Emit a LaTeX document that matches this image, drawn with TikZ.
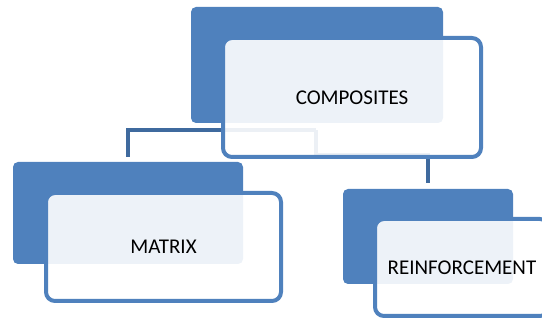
\documentclass[tikz,border=0pt]{standalone}
\usepackage{fontspec}
\setmainfont{Carlito}
\usepackage{tikz}

\definecolor{accent}{HTML}{4F81BD}
\definecolor{linkblue}{HTML}{3F6A9E}

\tikzset{
  backbox/.style={fill=accent, rounded corners=5pt, inner sep=0pt, outer sep=0pt},
  frontbox/.style={draw=accent, line width=4pt, fill=white, fill opacity=0.9, text opacity=1,
    rounded corners=9pt, inner sep=0pt, outer sep=0pt, font=\fontsize{21}{25}\selectfont},
  link/.style={draw=linkblue, line width=4pt}
}

\begin{document}
\begin{tikzpicture}[x=1pt,y=-1pt]
		\useasboundingbox (0,0) rectangle (542,320);
		% back boxes
		\node[backbox, minimum width=252pt, minimum height=116pt] (compback) at (317,65) {};
		\node[backbox, minimum width=230pt, minimum height=102pt] (matback) at (128,213) {};
		\node[backbox, minimum width=170pt, minimum height=95pt] (reinback) at (428,236.5) {};
		% connectors
		\coordinate (hub) at (316,130);
		\coordinate (split) at (316,155);
		\draw[link] (hub) -| ([yshift=5pt]matback.north);
		\draw[link] (hub) -- (split) -| ([yshift=6pt]reinback.north);
		% front boxes
		\node[frontbox, minimum width=258pt, minimum height=119pt] (comp) at (352,97.5) {COMPOSITES};
		\node[frontbox, minimum width=235pt, minimum height=108pt] (mat) at (163.5,247) {MATRIX};
		\node[frontbox, minimum width=174pt, minimum height=97pt] (rein) at (462,267.5) {REINFORCEMENT};
\end{tikzpicture}
\end{document}
